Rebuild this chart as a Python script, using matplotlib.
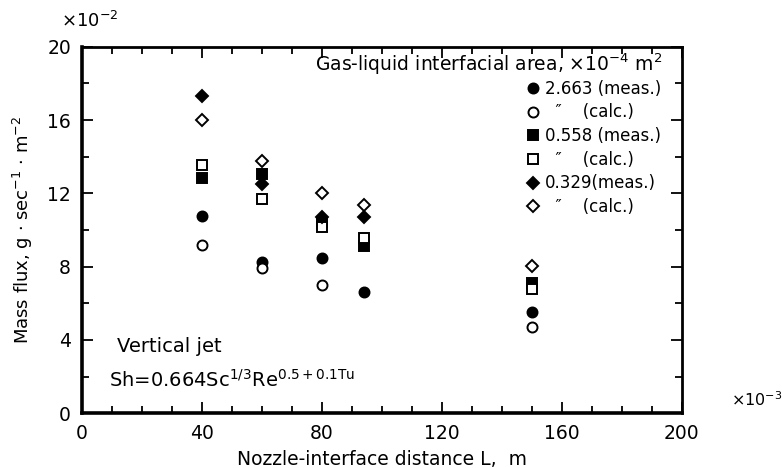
import matplotlib
matplotlib.use("Agg")
import matplotlib.pyplot as plt
from matplotlib.ticker import MultipleLocator

plt.rcParams["font.family"] = ["DejaVu Sans"]
plt.rcParams["mathtext.fontset"] = "dejavusans"

# nozzle-interface distance, x10^-3 m
x_a = [40, 60, 80, 94, 150]

# mass flux, x10^-2 g/(s m2)
area1_meas = [10.77, 8.27, 8.46, 6.63, 5.54]
area1_calc = [9.18, 7.91, 7.0, None, 4.69]
area2_meas = [12.82, 13.05, 10.45, 9.13, 7.09]
area2_calc = [13.55, 11.67, 10.15, 9.55, 6.76]
area3_meas = [17.29, 12.49, 10.73, 10.73, None]
area3_calc = [16.0, 13.76, 12.03, 11.36, 8.05]

series = [
    (area1_meas, "o", "k", "2.663 (meas.)"),
    (area1_calc, "o", "white", "  \u2033    (calc.)"),
    (area2_meas, "s", "k", "0.558 (meas.)"),
    (area2_calc, "s", "white", "  \u2033    (calc.)"),
    (area3_meas, "D", "k", "0.329(meas.)"),
    (area3_calc, "D", "white", "  \u2033    (calc.)"),
]

fig = plt.figure(figsize=(7.82, 4.68), dpi=100)
ax = fig.add_axes([0.105, 0.117, 0.767, 0.783])

handles = []
for vals, mk, fc, lab in series:
    xs = [x for x, v in zip(x_a, vals) if v is not None]
    ys = [v for v in vals if v is not None]
    ms = 6.0 if mk == "D" else 7.2
    h, = ax.plot(xs, ys, linestyle="none", marker=mk, markersize=ms,
                 markerfacecolor=fc, markeredgecolor="k", markeredgewidth=1.4,
                 label=lab)
    handles.append(h)

ax.set_xlim(0, 200)
ax.set_ylim(0, 20)
ax.xaxis.set_major_locator(MultipleLocator(40))
ax.xaxis.set_minor_locator(MultipleLocator(10))
ax.yaxis.set_major_locator(MultipleLocator(4))
ax.yaxis.set_minor_locator(MultipleLocator(2))
ax.tick_params(which="both", direction="in", top=True, right=True,
               labelsize=13.5, width=1.3, pad=8)
ax.tick_params(which="major", length=8)
ax.tick_params(which="minor", length=5)
for side in ["left", "bottom"]:
    ax.spines[side].set_linewidth(2.6)
for side in ["top", "right"]:
    ax.spines[side].set_linewidth(2.0)

ax.set_xlabel("Nozzle-interface distance L,  m", fontsize=13.5, labelpad=5)
ax.set_ylabel(r"Mass flux, g $\cdot$ sec$^{-1}$ $\cdot$ m$^{-2}$",
              fontsize=13, labelpad=9)

fig.text(0.078, 0.955, r"$\times$10$^{-2}$", fontsize=13, va="center")
fig.text(0.935, 0.145, r"$\times$10$^{-3}$", fontsize=11.5, va="center")

ax.text(0.967, 0.952, r"Gas-liquid interfacial area, $\times$10$^{-4}$ m$^{2}$",
        transform=ax.transAxes, fontsize=13.5, ha="right", va="center")
ax.legend(handles=handles, loc="upper right", frameon=False,
          bbox_to_anchor=(0.965, 0.91), fontsize=12,
          handlelength=0.8, handletextpad=0.3, labelspacing=0.34,
          borderaxespad=0, borderpad=0)

ax.text(0.058, 0.181, "Vertical jet", transform=ax.transAxes,
        fontsize=14, va="center")
ax.text(0.045, 0.09, r"Sh=0.664Sc$^{1/3}$Re$^{0.5+0.1\mathrm{Tu}}$",
        transform=ax.transAxes, fontsize=14, va="center")

fig.savefig("out.png", dpi=100)
